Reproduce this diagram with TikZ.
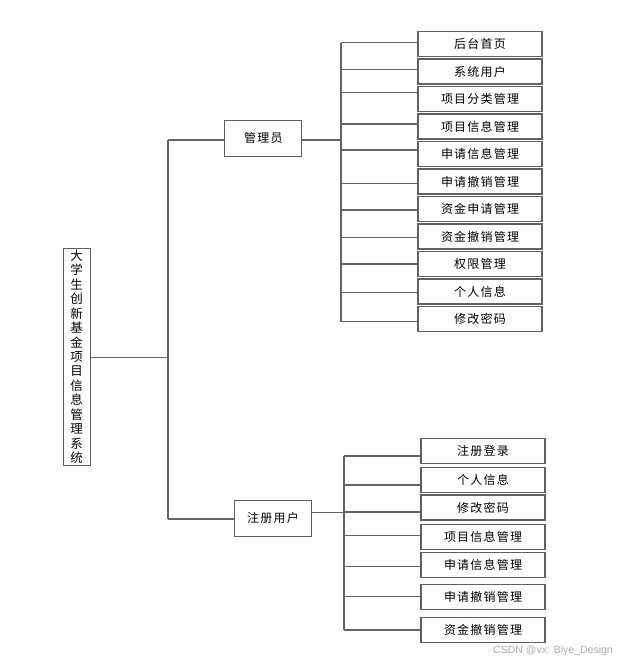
\documentclass[tikz,border=0pt]{standalone}
\usepackage{fontspec}
\newfontfamily\cjk[LetterSpace=10]{Noto Sans CJK SC}
\newfontfamily\cjkroot{Noto Sans CJK SC}
\setsansfont{Liberation Sans}
\begin{document}
\begin{tikzpicture}[x=1pt,y=-1pt,
  conn/.style={draw={rgb,255:red,100;green,100;blue,100}, line width=1.1pt},
  box/.style={draw={rgb,255:red,95;green,95;blue,95}, line width=1.1pt, fill=white,
     inner sep=0pt, font=\cjk\fontsize{12}{13}\selectfont},
  leaf/.style={box, minimum width=124pt, minimum height=25pt},
  mid/.style={box, minimum width=77pt, minimum height=36pt}]
\useasboundingbox (0,0) rectangle (616,663);
\fill[white] (0,0) rectangle (616,663);

% root
\node[box, minimum width=26.7pt, minimum height=216.7pt, align=center,
  font=\cjkroot\fontsize{12.5}{14.45}\selectfont] (root) at (76.7,356.7)
  {大\\学\\生\\创\\新\\基\\金\\项\\目\\信\\息\\管\\理\\系\\统};

% middle level
\node[mid] (admin) at (263.3,138.3) {管理员};
\node[mid] (user) at (273,518.3) {注册用户};

% admin leaves
\node[leaf] (a1) at (480,44) {后台首页};
\node[leaf] (a2) at (480,71.5) {系统用户};
\node[leaf] (a3) at (480,99) {项目分类管理};
\node[leaf] (a4) at (480,126.5) {项目信息管理};
\node[leaf] (a5) at (480,154) {申请信息管理};
\node[leaf] (a6) at (480,181.5) {申请撤销管理};
\node[leaf] (a7) at (480,209) {资金申请管理};
\node[leaf] (a8) at (480,236.5) {资金撤销管理};
\node[leaf] (a9) at (480,264) {权限管理};
\node[leaf] (a10) at (480,291.5) {个人信息};
\node[leaf] (a11) at (480,319) {修改密码};

% user leaves
\node[leaf] (u1) at (483,450.8) {注册登录};
\node[leaf] (u2) at (483,480.2) {个人信息};
\node[leaf] (u3) at (483,507.5) {修改密码};
\node[leaf] (u4) at (483,537.2) {项目信息管理};
\node[leaf] (u5) at (483,565.2) {申请信息管理};
\node[leaf] (u6) at (483,596.8) {申请撤销管理};
\node[leaf] (u7) at (483,629.8) {资金撤销管理};

% trunk
\coordinate (tA) at (168,140);
\coordinate (tU) at (168,519);
\coordinate (tR) at (168,357.7);
\draw[conn] (root.east |- tR) -- (tR);
\draw[conn] (tA) -- (tU);
\draw[conn] (tA) -- (admin.west |- tA);
\draw[conn] (tU) -- (user.west |- tU);

% admin bus
\coordinate (abus) at (341,140);
\draw[conn] (admin.east |- abus) -- (abus);
\draw[conn] (341,42.7) -- (341,321.7);
\foreach \n/\y in {a1/42.7,a2/69.3,a3/92.3,a4/124,a5/150,a6/183.3,a7/210,a8/237.3,a9/264,a10/292.7,a11/321.7}
  \draw[conn] (341,\y) -- (\n.west |- 0,\y);

% user bus
\coordinate (ubus) at (344,512.5);
\draw[conn] (user.east |- ubus) -- (ubus);
\draw[conn] (344,456) -- (344,630);
\foreach \n/\y in {u1/456,u2/485,u3/512,u4/535.3,u5/566.7,u6/596.7,u7/630}
  \draw[conn] (344,\y) -- (\n.west |- 0,\y);

% watermark
\node[anchor=east, inner sep=0pt, text={rgb,255:red,170;green,170;blue,170},
  font=\sffamily\fontsize{10.5}{12}\selectfont] (wm) at (613,650.5) {CSDN @vx: Biye\_Design};
\end{tikzpicture}
\end{document}
